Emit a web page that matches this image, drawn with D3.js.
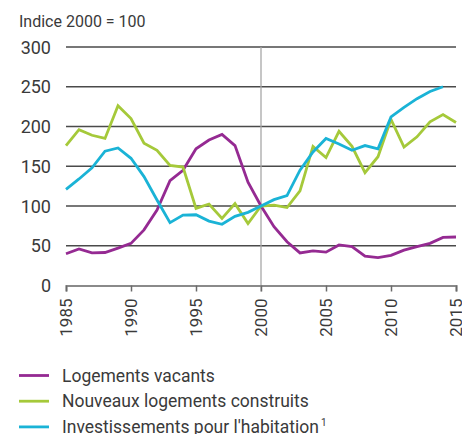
<!DOCTYPE html>
<head>
  <meta charset="utf-8">
  <script src="https://d3js.org/d3.v7.min.js"></script>
  <style>
    body { margin: 0; background: #fff; }
    text { font-family: "Liberation Sans Narrow", "Roboto", sans-serif; fill: #3a3a3a; }
  </style>
</head>
<body>
  <svg width="462" height="434"></svg>
  <script>
    // years and index values (2000 = 100)
    const years = d3.range(1985, 2016);
    const vacants = [40, 46, 41, 41.5, 47, 53, 70, 95, 132, 145, 172, 183, 190, 176, 130, 100,
                     74, 55, 41, 43.5, 42, 51, 49, 37, 35, 38, 44.5, 49, 53, 60.5, 61];
    const construits = [176, 196, 189, 185, 226, 210, 179, 170, 151, 149, 97, 102.5, 84.5, 103, 78, 100,
                        101, 98, 119, 175, 161, 194, 175, 142, 162, 209, 174, 187, 206, 215, 205];
    const investissements = [121, 134, 148, 169, 173, 160, 137, 107.5, 79, 88.6, 89, 81, 77, 87, 92, 100,
                             108, 113, 145, 168, 185, 178, 170, 176, 172, 212, 224, 235, 244, 250];
    const yTicks = [0, 50, 100, 150, 200, 250, 300];
    const xTicks = [1985, 1990, 1995, 2000, 2005, 2010, 2015];
    const seriesNames = ["Logements vacants", "Nouveaux logements construits", "Investissements pour l'habitation"];
    const colors = ["#952a92", "#a5c93a", "#1ab3d6"];

    const svg = d3.select("svg");
    const x = d3.scaleLinear().domain([1985, 2015]).range([66, 456]);
    const y = d3.scaleLinear().domain([0, 300]).range([285.5, 47]);

    svg.append("text")
      .attr("x", 19).attr("y", 27)
      .style("font-size", "16px")
      .text("Indice 2000 = 100");

    // gridlines
    svg.append("g").selectAll("line")
      .data(yTicks.filter(d => d > 0))
      .enter().append("line")
      .attr("x1", x(1985)).attr("x2", x(2015))
      .attr("y1", d => y(d)).attr("y2", d => y(d))
      .attr("stroke", "#4a4a4a").attr("stroke-width", 1.3);

    // y labels
    svg.append("g").selectAll("text")
      .data(yTicks)
      .enter().append("text")
      .attr("x", 51).attr("y", d => y(d) + 6.5)
      .attr("text-anchor", "end")
      .style("font-size", "18px")
      .text(d => d);

    // vertical reference at 2000
    svg.append("line")
      .attr("x1", x(2000)).attr("x2", x(2000))
      .attr("y1", y(300)).attr("y2", y(0) + 6)
      .attr("stroke", "#a8a8a8").attr("stroke-width", 1.3);

    // x axis
    const xAxis = svg.append("g")
      .attr("transform", `translate(0,${y(0)})`)
      .call(d3.axisBottom(x).tickValues(xTicks).tickFormat(d3.format("d")).tickSize(6).tickPadding(6));
    xAxis.select(".domain").attr("stroke", "#8a8a8a").attr("stroke-width", 2);
    xAxis.selectAll(".tick line").attr("stroke", "#6a6a6a").attr("stroke-width", 1.5);
    xAxis.selectAll(".tick text")
      .style("font-size", "17px")
      .style("font-family", "\"Liberation Sans Narrow\", Roboto, sans-serif")
      .attr("fill", "#3a3a3a")
      .attr("transform", "rotate(-90)")
      .attr("text-anchor", "end")
      .attr("dy", "0.35em")
      .attr("x", -13).attr("y", 0);

    // lines
    const line = d3.line().x((d, i) => x(years[i])).y(d => y(d));
    [vacants, construits, investissements].forEach((s, i) => {
      svg.append("path")
        .datum(s)
        .attr("fill", "none")
        .attr("stroke", colors[i])
        .attr("stroke-width", 2.8)
        .attr("stroke-linejoin", "miter")
        .attr("d", line);
    });

    // legend
    const lg = svg.append("g").selectAll("g")
      .data(seriesNames)
      .enter().append("g")
      .attr("transform", (d, i) => `translate(0,${375.5 + i * 25.7})`);
    lg.append("line")
      .attr("x1", 19).attr("x2", 49)
      .attr("stroke", (d, i) => colors[i]).attr("stroke-width", 2.8);
    lg.append("text")
      .attr("x", 62).attr("y", 6)
      .style("font-size", "17.5px")
      .text(d => d)
      .filter((d, i) => i === 2)
      .append("tspan")
      .attr("dy", -7).attr("dx", 2)
      .style("font-size", "10px")
      .text("1");
  </script>
</body>
